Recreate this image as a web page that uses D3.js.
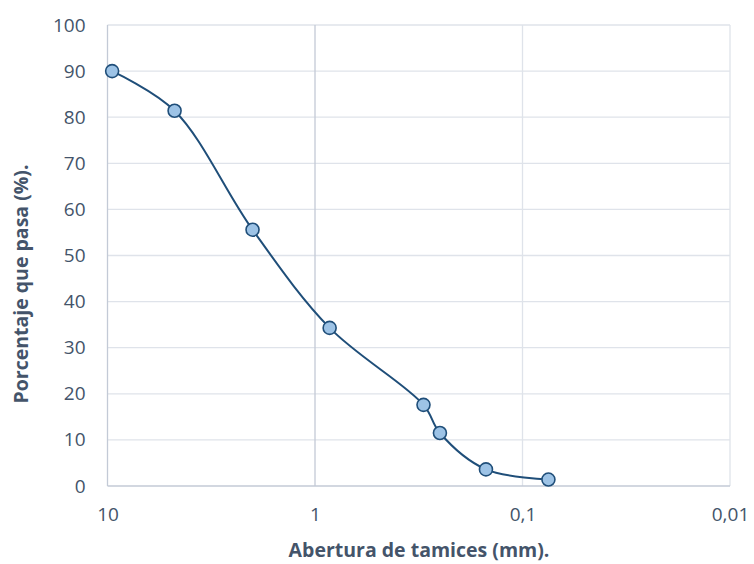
<!DOCTYPE html>
<html>
<head>
<meta charset="utf-8">
<script src="https://cdn.jsdelivr.net/npm/d3@7"></script>
<style>
    body { margin: 0; background: #fff; }
    text { font-family: "Open Sans", sans-serif; }
</style>
</head>
<body>
<div class="chart-container"></div>
<script>
// Chart params
const width = 754;
const height = 564;
const margin = { top: 25, right: 24, bottom: 78, left: 107.5 };

// Granulometry data
const sieveOpening = [9.5, 4.75, 2.0, 0.85, 0.30, 0.25, 0.15, 0.075];
const percentPassing = [90.0, 81.4, 55.6, 34.3, 17.6, 11.5, 3.6, 1.4];

const xTicks = [10, 1, 0.1, 0.01];
const xTickLabels = ['10', '1', '0,1', '0,01'];
const yTicks = [0, 10, 20, 30, 40, 50, 60, 70, 80, 90, 100];

const textColor = '#44546a';
const gridColor = '#dfe3ea';
const axisColor = '#c3cad6';

// Draw the chart
function drawChart() {

    var svg = d3.select('.chart-container')
        .append('svg')
        .attr('width', width)
        .attr('height', height);

    // Log scale, reversed (big openings on the left)
    var x = d3.scaleLog()
        .domain([10, 0.01])
        .range([margin.left, width - margin.right]);

    var y = d3.scaleLinear()
        .domain([0, 100])
        .range([height - margin.bottom, margin.top]);

    var g = svg.append('g');

    // Horizontal gridlines
    g.selectAll('.hgrid')
        .data(yTicks.filter(d => d > 0))
        .enter()
        .append('line')
        .attr('class', 'hgrid')
        .attr('x1', x(10))
        .attr('x2', x(0.01))
        .attr('y1', d => y(d))
        .attr('y2', d => y(d))
        .attr('stroke', gridColor)
        .attr('stroke-width', 1.3);

    // Vertical gridlines
    g.selectAll('.vgrid')
        .data(xTicks.slice(1))
        .enter()
        .append('line')
        .attr('class', 'vgrid')
        .attr('x1', d => x(d))
        .attr('x2', d => x(d))
        .attr('y1', y(0))
        .attr('y2', y(100))
        .attr('stroke', d => d === 1 ? axisColor : gridColor)
        .attr('stroke-width', 1.3);

    // Axis lines
    g.append('line')
        .attr('x1', x(10)).attr('x2', x(10))
        .attr('y1', y(0)).attr('y2', y(100))
        .attr('stroke', axisColor)
        .attr('stroke-width', 1.3);

    g.append('line')
        .attr('x1', x(10)).attr('x2', x(0.01))
        .attr('y1', y(0)).attr('y2', y(0))
        .attr('stroke', axisColor)
        .attr('stroke-width', 1.3);

    // Y axis labels
    var yAxis = d3.axisLeft(y)
        .tickValues(yTicks)
        .tickSize(0)
        .tickPadding(22);

    svg.append('g')
        .attr('transform', `translate(${margin.left},0)`)
        .call(yAxis)
        .call(s => s.select('.domain').remove())
        .selectAll('text')
        .attr('fill', textColor)
        .style('font-size', '19px')
        .style('font-family', '"Open Sans", sans-serif');

    // X axis labels
    var xAxis = d3.axisBottom(x)
        .tickValues(xTicks)
        .tickFormat((d, i) => xTickLabels[i])
        .tickSize(0)
        .tickPadding(22);

    svg.append('g')
        .attr('transform', `translate(0,${y(0)})`)
        .call(xAxis)
        .call(s => s.select('.domain').remove())
        .selectAll('text')
        .attr('fill', textColor)
        .style('font-size', '19px')
        .style('font-family', '"Open Sans", sans-serif');

    // Smoothed line
    var line = d3.line()
        .x((d, i) => x(sieveOpening[i]))
        .y(d => y(d))
        .curve(d3.curveCatmullRom.alpha(0.5));

    svg.append('path')
        .datum(percentPassing)
        .attr('d', line)
        .attr('fill', 'none')
        .attr('stroke', '#1f4e79')
        .attr('stroke-width', 2);

    // Markers
    svg.selectAll('.point')
        .data(percentPassing)
        .enter()
        .append('circle')
        .attr('class', 'point')
        .attr('cx', (d, i) => x(sieveOpening[i]))
        .attr('cy', d => y(d))
        .attr('r', 6.5)
        .attr('fill', '#9dc3e6')
        .attr('stroke', '#1f4e79')
        .attr('stroke-width', 1.6);

    // Axis titles
    svg.append('text')
        .attr('x', 419)
        .attr('y', 557)
        .attr('text-anchor', 'middle')
        .attr('fill', textColor)
        .style('font-size', '19.5px')
        .style('font-weight', 'bold')
        .text('Abertura de tamices (mm).');

    svg.append('text')
        .attr('transform', 'translate(28,284) rotate(-90)')
        .attr('text-anchor', 'middle')
        .attr('fill', textColor)
        .style('font-size', '19.5px')
        .style('font-weight', 'bold')
        .text('Porcentaje que pasa (%).');
}

window.onload = function () {
    drawChart();
};
</script>
</body>
</html>
